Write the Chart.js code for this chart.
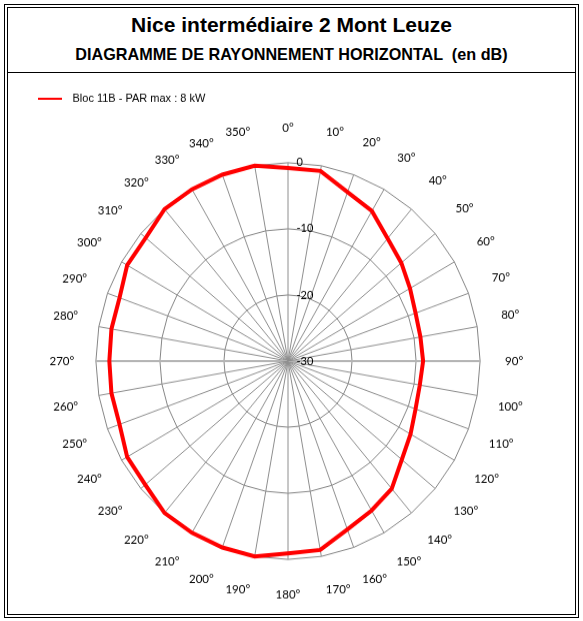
<!DOCTYPE html>
<html>
<head>
<meta charset="utf-8">
<script src="https://cdn.jsdelivr.net/npm/chart.js@4.4.1/dist/chart.umd.min.js"></script>
<style>
  html, body { margin: 0; padding: 0; background: #fff; }
  body { width: 583px; height: 621px; position: relative; overflow: hidden; }
  .box { position: absolute; box-sizing: border-box; border: 1px solid #000; }
  .txt { position: absolute; left: 4px; width: 575px; text-align: center; white-space: pre;
         font-family: "Liberation Sans", Arial, sans-serif; font-weight: bold; color: #000; }
  #chart { position: absolute; left: 0; top: 74px; }
</style>
</head>
<body>
<div class="box" style="left:4px; top:4px; width:575px; height:614px;"></div>
<div class="box" style="left:7px; top:7px; width:569px; height:608px;"></div>
<div style="position:absolute; left:7px; top:72px; width:569px; height:1px; background:#000;"></div>
<div class="txt" style="top:14px; font-size:21px; line-height:21px;">Nice intermédiaire 2 Mont Leuze</div>
<div class="txt" style="top:46px; font-size:16.2px; line-height:16.2px;">DIAGRAMME DE RAYONNEMENT HORIZONTAL  (en dB)</div>
<canvas id="chart" width="583" height="523" style="width:583px; height:540px;"></canvas>
<script>
// ---- data ----
const ANGLE_LABELS = ['0°','10°','20°','30°','40°','50°','60°','70°','80°','90°',
  '100°','110°','120°','130°','140°','150°','160°','170°','180°','190°',
  '200°','210°','220°','230°','240°','250°','260°','270°','280°','290°',
  '300°','310°','320°','330°','340°','350°'];
const SERIES_NAME = 'Bloc 11B - PAR max : 8 kW';
const GAIN_DB = [-0.8, -0.8, -2.8, -3.8, -5.8, -6.9, -8.0, -8.8, -9.0, -8.9,
  -9.1, -8.8, -7.9, -6.8, -4.8, -3.9, -2.9, -1.0, -0.9, 0,
  0, 0, 0, -0.9, -1.0, -2.0, -2.0, -2.1, -2.0, -2.0,
  -1.0, -1.0, 0, 0, 0, 0];
const SCALE_MIN = -30;
const SCALE_MAX = 0;
const SCALE_STEP = 10;

// ---- styles ----
const LINE_COLOR = '#ff0000';
const POINT_FONT = { family: 'Lato', size: 11.5 };
const TICK_FONT = { family: 'Lato', size: 11 };
const LABEL_GAP_AXIS = 34;   // gap ring -> label centre on the axes
const LABEL_GAP_DIAG = 4;    // extra gap on the diagonals
const LEGEND_GAP = 6;        // space between legend and plot

function pointLabelPadding(ctx) {
  const c = ctx.chart.ctx;
  c.save();
  c.font = POINT_FONT.size + 'px ' + POINT_FONT.family;
  const w = c.measureText(ctx.label).width;
  c.restore();
  const a = ctx.index * 2 * Math.PI / ANGLE_LABELS.length;
  const lh = POINT_FONT.size * 1.2;
  const gap = LABEL_GAP_AXIS + LABEL_GAP_DIAG * Math.pow(Math.sin(2 * a), 2);
  return gap - (w / 2) * Math.abs(Math.sin(a)) - (lh / 2) * Math.abs(Math.cos(a));
}

// legend sample: short red line followed by a small gap
const legendSample = document.createElement('canvas');
legendSample.width = 29; legendSample.height = 2;
(function () { const g = legendSample.getContext('2d'); g.fillStyle = LINE_COLOR; g.fillRect(0, 0, 24, 2); })();

// empty layout box that keeps some room between the legend and the plot
const legendGapPlugin = {
  id: 'legendGap',
  beforeInit(chart) {
    Chart.layouts.addBox(chart, {
      position: 'top', weight: 500, fullSize: true,
      options: { stackWeight: 1 },
      left: 0, top: 0, right: 0, bottom: 0, width: 0, height: 0,
      isHorizontal() { return true; },
      update(maxWidth) { this.width = maxWidth; this.height = LEGEND_GAP; },
      draw() {}
    });
  }
};

const tickLabelPlugin = {
  id: 'tickLabels',
  afterDatasetsDraw(chart) {
    const s = chart.scales.r, c = chart.ctx;
    c.save();
    c.font = TICK_FONT.size + 'px ' + TICK_FONT.family;
    c.fillStyle = '#000';
    c.textAlign = 'left';
    c.textBaseline = 'middle';
    s.ticks.forEach(t => {
      const d = s.getDistanceFromCenterForValue(t.value);
      c.fillText(t.label, s.xCenter + 8.5, s.yCenter - d);
    });
    c.restore();
  }
};

const chart = new Chart(document.getElementById('chart'), {
  type: 'radar',
  data: {
    labels: ANGLE_LABELS,
    datasets: [{
      label: SERIES_NAME,
      data: GAIN_DB,
      borderColor: LINE_COLOR,
      backgroundColor: LINE_COLOR,
      borderWidth: 4,
      fill: false,
      pointRadius: 0,
      pointHoverRadius: 0,
      pointHitRadius: 0
    }]
  },
  options: {
    responsive: false,
    devicePixelRatio: 1,
    animation: false,
    events: [],
    layout: { padding: { left: 28, right: 37, top: 8, bottom: 12 } },
    plugins: {
      tooltip: { enabled: false },
      legend: {
        position: 'top',
        align: 'start',
        labels: {
          usePointStyle: true,
          pointStyleWidth: 29,
          padding: 10,
          color: '#000',
          font: { family: 'Liberation Sans', size: 11 },
          generateLabels: (ch) => Chart.defaults.plugins.legend.labels.generateLabels(ch)
            .map(l => Object.assign(l, { pointStyle: legendSample }))
        }
      }
    },
    scales: {
      r: {
        min: SCALE_MIN,
        max: SCALE_MAX,
        startAngle: 0,
        ticks: { stepSize: SCALE_STEP, display: false },
        grid: { circular: false, color: '#868686', lineWidth: 1 },
        angleLines: {
          color: (ctx) => (ctx.index % 18 === 9 ? '#b4b4b4' : '#8e8e8e'),
          lineWidth: (ctx) => (ctx.index % 18 === 9 ? 2 : 1)
        },
        pointLabels: {
          color: '#000',
          font: POINT_FONT,
          padding: pointLabelPadding
        }
      }
    }
  },
  plugins: [legendGapPlugin, tickLabelPlugin]
});
</script>
</body>
</html>
